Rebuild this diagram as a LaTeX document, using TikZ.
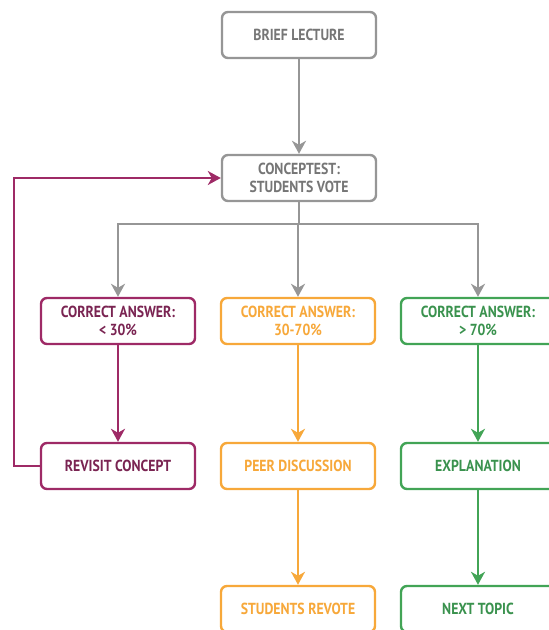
\documentclass[tikz,border=0pt]{standalone}
\usepackage{fontspec}
\setmainfont{PT Sans}[FakeStretch=0.86]
\usepackage{tikz}
\usetikzlibrary{arrows.meta}
\definecolor{cgray}{RGB}{150,150,150}
\definecolor{tgray}{RGB}{118,118,118}
\definecolor{cplum}{RGB}{158,42,102}
\definecolor{tplum}{RGB}{122,36,82}
\definecolor{corange}{RGB}{247,168,58}
\definecolor{cgreen}{RGB}{66,164,86}
\definecolor{tgreen}{RGB}{58,146,78}
\tikzset{
  stepbox/.style={draw=#1, line width=2.4pt, rounded corners=6pt, fill=white,
    minimum width=154pt, minimum height=46pt, align=center,
    font=\fontsize{16}{18}\selectfont\bfseries, inner sep=2pt},
  flow/.style={draw=#1, line width=2.4pt, -{Stealth[length=13pt,width=14pt,inset=4pt]}}
}
\begin{document}
\begin{tikzpicture}[x=1pt,y=-1pt]
      \useasboundingbox (0,0) rectangle (549,630);
      % top of the flow
      \node[stepbox=cgray, text=tgray] (lecture) at (299,35) {BRIEF LECTURE};
      \node[stepbox=cgray, text=tgray] (vote) at (299,178) {CONCEPTEST:\\STUDENTS VOTE};
      % three outcomes
      \node[stepbox=cplum, text=tplum] (low) at (118,321) {CORRECT ANSWER:\\< 30\%};
      \node[stepbox=corange, text=corange] (mid) at (298,321) {CORRECT ANSWER:\\30-70\%};
      \node[stepbox=cgreen, text=tgreen] (high) at (478,321) {CORRECT ANSWER:\\> 70\%};
      \node[stepbox=cplum, text=tplum] (revisit) at (118,466) {REVISIT CONCEPT};
      \node[stepbox=corange, text=corange] (peer) at (298,466) {PEER DISCUSSION};
      \node[stepbox=cgreen, text=tgreen] (expl) at (478,466) {EXPLANATION};
      \node[stepbox=corange, text=corange] (revote) at (298,609) {STUDENTS REVOTE};
      \node[stepbox=cgreen, text=tgreen] (next) at (478,609) {NEXT TOPIC};
      \coordinate (split) at (299,224);
      \coordinate (loop) at (14,466);
      \draw[flow=cgray] (lecture) -- (vote);
      \draw[flow=cgray] (vote) -- (split) -| (low);
      \draw[flow=cgray] (split) -| (mid);
      \draw[flow=cgray] (split) -| (high);
      \draw[flow=cplum] (low) -- (revisit);
      \draw[flow=corange] (mid) -- (peer);
      \draw[flow=corange] (peer) -- (revote);
      \draw[flow=cgreen] (high) -- (expl);
      \draw[flow=cgreen] (expl) -- (next);
      \draw[flow=cplum] (revisit.west) -- (loop) |- (vote.west);
\end{tikzpicture}
\end{document}
